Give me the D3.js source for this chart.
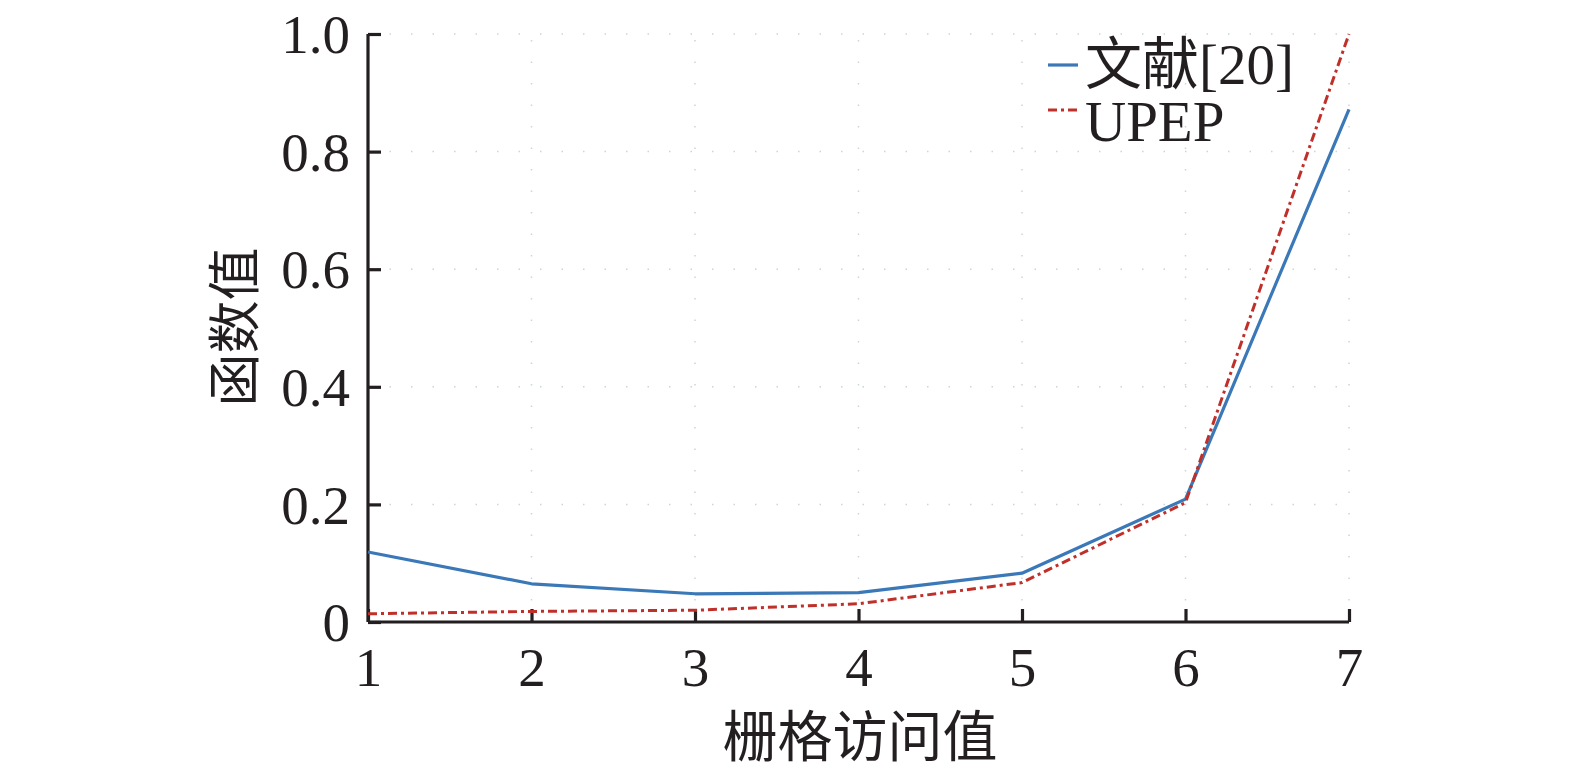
<!DOCTYPE html>
<html><head><meta charset="utf-8">
<script src="https://cdn.jsdelivr.net/npm/d3@7"></script>
<style>body{margin:0;background:#fff}</style>
</head><body>
<svg id="c" width="1575" height="772"></svg>
<script>
const xValues = [1, 2, 3, 4, 5, 6, 7];
const refValues = [0.119, 0.065, 0.048, 0.050, 0.083, 0.209, 0.872];
const upepValues = [0.014, 0.018, 0.020, 0.031, 0.067, 0.203, 1.0];
const seriesNames = ["文献[20]", "UPEP"];
const xTicks = [1, 2, 3, 4, 5, 6, 7];
const yTicks = [0, 0.2, 0.4, 0.6, 0.8, 1.0];
const xTitle = "栅格访问值";
const yTitle = "函数值";

const font = "'Liberation Serif','Times New Roman','Noto Sans CJK SC',serif";
const svg = d3.select("#c");
const x = d3.scaleLinear().domain([1, 7]).range([368, 1349]);
const y = d3.scaleLinear().domain([0, 1]).range([622, 34]);

// faint dotted grid
const grid = svg.append("g").attr("stroke", "#c9d6da").attr("stroke-width", 1.5).attr("stroke-dasharray", "1.5,20");
grid.selectAll("line.v").data(xTicks.slice(1)).join("line")
  .attr("x1", d => x(d)).attr("x2", d => x(d)).attr("y1", y(0)).attr("y2", y(1));
grid.selectAll("line.h").data(yTicks.slice(1)).join("line")
  .attr("x1", x(1)).attr("x2", x(7)).attr("y1", d => y(d)).attr("y2", d => y(d));

// axes
const xAxis = svg.append("g").attr("transform", `translate(0,${y(0)})`)
  .call(d3.axisBottom(x).tickValues(xTicks).tickFormat(d3.format("d")).tickSize(-13));
const yAxis = svg.append("g").attr("transform", `translate(${x(1)},0)`)
  .call(d3.axisLeft(y).tickValues(yTicks).tickFormat(d => d === 0 ? "0" : d3.format(".1f")(d)).tickSize(-13));
[xAxis, yAxis].forEach(a => {
  a.select(".domain").attr("stroke", "#231f20").attr("stroke-width", 3.2);
  a.selectAll(".tick line").attr("stroke", "#231f20").attr("stroke-width", 3.2);
  a.selectAll(".tick text").attr("fill", "#231f20").style("font-family", font).style("font-size", "55px");
});
xAxis.select(".domain").attr("d", `M${x(1)},0H${x(7)}`);
yAxis.select(".domain").attr("d", `M0,${y(0)}V${y(1)}`);
xAxis.selectAll(".tick text").attr("y", 44).attr("dy", "0.36em");
yAxis.selectAll(".tick text").attr("x", -18).attr("dy", "0.34em");

// lines
const line = vals => d3.line().x((d, i) => x(xValues[i])).y(d => y(d))(vals);
svg.append("path").attr("d", line(refValues)).attr("fill", "none")
  .attr("stroke", "#3b78b8").attr("stroke-width", 3.2).attr("stroke-linejoin", "round");
svg.append("path").attr("d", line(upepValues)).attr("fill", "none")
  .attr("stroke", "#c0302a").attr("stroke-width", 3).attr("stroke-dasharray", "9,4,3,4");

// legend
const legend = svg.append("g");
const lg = [{c: "#3b78b8", dash: null, w: 3.2, ly: 65, ty: 63}, {c: "#c0302a", dash: "9,4,3,4", w: 3, ly: 110, ty: 120}];
lg.forEach((l, i) => {
  legend.append("line").attr("x1", 1048).attr("x2", 1078).attr("y1", l.ly).attr("y2", l.ly)
    .attr("stroke", l.c).attr("stroke-width", l.w).attr("stroke-dasharray", l.dash);
  legend.append("text").attr("x", 1085).attr("y", l.ty).attr("dy", "0.36em")
    .style("font-family", font).style("font-size", "57px").attr("fill", "#231f20").text(seriesNames[i]);
});

// titles
svg.append("text").attr("x", 860).attr("y", 736).attr("dy", "0.36em").attr("text-anchor", "middle")
  .style("font-family", font).style("font-size", "55px").attr("fill", "#231f20").text(xTitle);
svg.append("text").attr("transform", "translate(235,327) rotate(-90)").attr("dy", "0.36em").attr("text-anchor", "middle")
  .style("font-family", font).style("font-size", "53px").attr("fill", "#231f20").text(yTitle);
</script>
</body></html>
